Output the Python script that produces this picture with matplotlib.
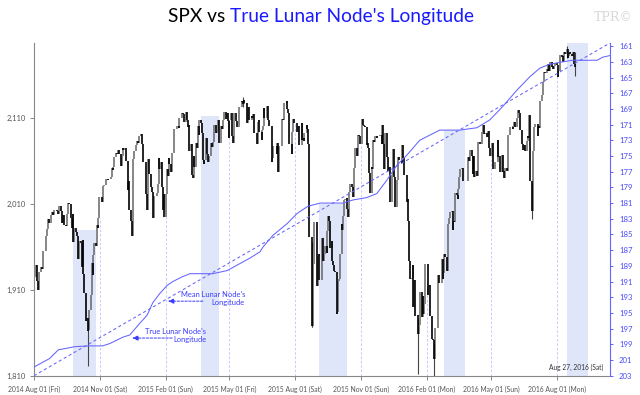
import numpy as np
import pandas as pd
import matplotlib
matplotlib.use("Agg")
import matplotlib.pyplot as plt
import matplotlib.dates as mdates
from matplotlib.ticker import FixedLocator, FuncFormatter

# ---------------- data ----------------
spx_closes = {
    "2014-08": [1925, 1939, 1920, 1920, 1910, 1931, 1937, 1934, 1946, 1955, 1955, 1972, 1981, 1986, 1992, 1988, 1997, 2000, 2000, 1997, 2003],
    "2014-09": [2002, 2000, 1998, 2007, 2001, 1988, 1996, 1997, 1985, 1984, 1998, 2001, 2011, 2010, 1994, 1982, 1998, 1965, 1982, 1977, 1972],
    "2014-10": [1946, 1946, 1967, 1964, 1936, 1968, 1928, 1906, 1874, 1877, 1862, 1863, 1886, 1904, 1941, 1927, 1950, 1964, 1961, 1985, 1982, 1994, 2018],
    "2014-11": [2018, 2012, 2023, 2031, 2032, 2039, 2039, 2038, 2039, 2039, 2041, 2052, 2049, 2053, 2064, 2069, 2068, 2072, 2068],
    "2014-12": [2054, 2066, 2075, 2072, 2075, 2060, 2060, 2026, 2036, 2003, 1990, 1973, 2013, 2062, 2071, 2078, 2083, 2081, 2089, 2091, 2080, 2059],
    "2015-01": [2058, 2021, 2003, 2026, 2062, 2045, 2029, 2024, 2012, 1993, 2019, 2023, 2033, 2063, 2051, 2058, 2030, 2003, 2021, 1995],
    "2015-02": [2021, 2050, 2042, 2063, 2056, 2047, 2069, 2069, 2089, 2097, 2101, 2100, 2098, 2110, 2110, 2116, 2114, 2110, 2105],
    "2015-03": [2117, 2108, 2099, 2102, 2071, 2079, 2044, 2040, 2066, 2053, 2081, 2075, 2100, 2090, 2108, 2104, 2092, 2061, 2056, 2061, 2086, 2068],
    "2015-04": [2059, 2066, 2081, 2076, 2082, 2092, 2102, 2092, 2095, 2107, 2105, 2081, 2101, 2097, 2107, 2112, 2117, 2109, 2115, 2106, 2086],
    "2015-05": [2108, 2115, 2089, 2081, 2088, 2116, 2106, 2099, 2099, 2121, 2123, 2129, 2128, 2126, 2131, 2127, 2104, 2123, 2121, 2107],
    "2015-06": [2112, 2110, 2114, 2096, 2092, 2079, 2080, 2105, 2108, 2094, 2084, 2096, 2100, 2121, 2110, 2122, 2124, 2108, 2102, 2101, 2058, 2063],
    "2015-07": [2077, 2077, 2068, 2081, 2047, 2052, 2077, 2100, 2109, 2107, 2124, 2127, 2129, 2120, 2115, 2102, 2080, 2068, 2093, 2109, 2109, 2104],
    "2015-08": [2098, 2094, 2100, 2084, 2078, 2104, 2084, 2086, 2083, 2092, 2102, 2097, 2079, 2036, 1971, 1893, 1868, 1940, 1988, 1989, 1972],
    "2015-09": [1914, 1949, 1951, 1921, 1970, 1943, 1952, 1961, 1953, 1978, 1996, 1990, 1958, 1967, 1943, 1939, 1932, 1931, 1882, 1884, 1920],
    "2015-10": [1923, 1952, 1987, 1980, 1996, 2014, 2015, 2017, 2004, 1995, 2024, 2033, 2033, 2030, 2018, 2052, 2075, 2072, 2066, 2090, 2089, 2079],
    "2015-11": [2104, 2109, 2102, 2100, 2099, 2078, 2081, 2075, 2046, 2023, 2053, 2051, 2084, 2082, 2089, 2087, 2089, 2089, 2090, 2080],
    "2015-12": [2102, 2080, 2050, 2092, 2077, 2064, 2048, 2053, 2012, 2022, 2043, 2074, 2041, 2006, 2022, 2038, 2064, 2061, 2057, 2078, 2063, 2044],
    "2016-01": [2012, 2016, 1990, 1943, 1922, 1924, 1939, 1890, 1921, 1880, 1881, 1859, 1869, 1907, 1878, 1903, 1882, 1893, 1940],
    "2016-02": [1940, 1904, 1913, 1915, 1880, 1853, 1852, 1852, 1829, 1865, 1896, 1927, 1918, 1918, 1946, 1922, 1930, 1952, 1948, 1932],
    "2016-03": [1978, 1986, 1994, 2000, 2002, 1980, 1990, 1989, 2022, 2020, 2016, 2027, 2041, 2050, 2052, 2049, 2036, 2036, 2037, 2056, 2064, 2060],
    "2016-04": [2073, 2066, 2045, 2066, 2041, 2048, 2042, 2062, 2082, 2082, 2080, 2094, 2100, 2102, 2091, 2092, 2088, 2091, 2095, 2075, 2065],
    "2016-05": [2081, 2063, 2051, 2051, 2058, 2059, 2084, 2064, 2065, 2047, 2067, 2047, 2048, 2040, 2052, 2048, 2076, 2090, 2090, 2099, 2097],
    "2016-06": [2100, 2105, 2099, 2110, 2112, 2119, 2116, 2096, 2079, 2075, 2072, 2078, 2071, 2083, 2089, 2086, 2113, 2037, 2001, 2037, 2071, 2099],
    "2016-07": [2103, 2089, 2100, 2098, 2129, 2137, 2152, 2152, 2163, 2162, 2167, 2164, 2173, 2165, 2175, 2169, 2170, 2167, 2170, 2174],
    "2016-08": [2171, 2157, 2164, 2165, 2183, 2181, 2182, 2175, 2186, 2184, 2190, 2179, 2182, 2187, 2184, 2182, 2186, 2175, 2173, 2169],
}
market_holidays = ["2014-09-01", "2014-11-27", "2014-12-25", "2015-01-01", "2015-01-19", "2015-02-16",
                   "2015-04-03", "2015-05-25", "2015-07-03", "2015-09-07", "2015-11-26", "2015-12-25",
                   "2016-01-01", "2016-01-18", "2016-02-15", "2016-03-25", "2016-05-30", "2016-07-04"]

# intraday extremes on notable days
extreme_dates = ["2014-10-15", "2015-05-20", "2015-08-24", "2015-08-25", "2016-01-20", "2016-02-11", "2016-06-27", "2016-08-15", "2016-08-26"]
extreme_lows = [1821, 2123, 1867, 1867, 1812, 1810, 1992, 2180, 2159]
extreme_highs = [1874, 2134, 1965, 1948, 1876, 1848, 2033, 2194, 2187]

true_node_dates = ["2014-08-01", "2014-08-23", "2014-09-04", "2014-09-16", "2014-09-27", "2014-10-18", "2014-11-05",
                   "2014-11-15", "2014-12-03", "2014-12-13", "2014-12-27", "2015-01-06", "2015-01-14", "2015-01-24",
                   "2015-02-03", "2015-02-11", "2015-02-24", "2015-03-07", "2015-03-21", "2015-04-08", "2015-04-28",
                   "2015-05-16", "2015-05-30", "2015-06-13", "2015-06-17", "2015-07-01", "2015-07-21", "2015-08-04",
                   "2015-08-19", "2015-09-05", "2015-10-07", "2015-10-21", "2015-11-09", "2015-11-23", "2015-12-07",
                   "2015-12-21", "2016-01-04", "2016-01-22", "2016-02-19", "2016-03-18", "2016-04-11", "2016-04-29",
                   "2016-05-17", "2016-06-06", "2016-06-24", "2016-07-08", "2016-07-22", "2016-08-09", "2016-08-23",
                   "2016-09-26", "2016-10-04", "2016-10-14"]
true_node_values = [201.9, 200.8, 199.7, 199.5, 199.3, 199.2, 199.2,
                    198.9, 198.1, 197.8, 196.3, 195.3, 193.7, 192.5,
                    191.5, 191.0, 190.4, 190.0, 190.0, 190.0, 189.6,
                    188.7, 188.0, 187.2, 186.6, 185.1, 183.6, 182.3,
                    181.4, 181.0, 181.0, 180.6, 180.3, 179.8, 178.1,
                    176.2, 174.9, 173.0, 171.7, 171.7, 171.4, 170.4,
                    168.7, 166.6, 164.9, 163.8, 163.3, 163.0, 162.8,
                    162.8, 162.4, 162.2]

mean_node_dates = ["2014-08-01", "2016-10-14"]
mean_node_values = [203.0, 160.6]

shade_starts = ["2014-09-25", "2015-03-22", "2015-09-04", "2016-02-25", "2016-08-15"]
shade_ends = ["2014-10-27", "2015-04-16", "2015-10-12", "2016-03-25", "2016-09-13"]
shade_tops = [1979, 2112, 2010, 2096, 2197]

x_tick_dates = ["2014-08-01", "2014-11-01", "2015-02-01", "2015-05-01", "2015-08-01",
                "2015-11-01", "2016-02-01", "2016-05-01", "2016-08-01"]
left_ticks = [1810, 1910, 2010, 2110]
right_ticks = list(range(161, 204, 2))

x_start, x_end = "2014-08-01", "2016-10-14"
left_lim = (1810, 2197)
right_lim = (203, 160.6)

# ---------------- build price series ----------------
hol = pd.to_datetime(market_holidays)
dates, closes = [], []
for month, vals in spx_closes.items():
    start = pd.Timestamp(month + "-01")
    days = pd.bdate_range(start, start + pd.offsets.MonthEnd(0))
    days = days[~days.isin(hol)]
    dates.extend(days[:len(vals)])
    closes.extend(vals)
dates = pd.DatetimeIndex(dates)
closes = np.array(closes, dtype=float)
prev = np.concatenate([[closes[0]], closes[:-1]])

# ---------------- figure ----------------
plt.rcParams["font.family"] = ["Lato", "DejaVu Sans"]
fig = plt.figure(figsize=(6.4, 3.95), dpi=100)
ax = fig.add_axes([34 / 640, 19.3 / 395, 576 / 640, 332.7 / 395])
ax2 = ax.twinx()

blue = "#6464ff"
label_blue = "#4a4aff"

# shaded windows
for s, e, t in zip(shade_starts, shade_ends, shade_tops):
    ax.fill_between([pd.Timestamp(s), pd.Timestamp(e)], left_lim[0], t,
                    color="#dfe6fa", lw=0, zorder=0)

# dashed month lines up to the price
for d in x_tick_dates[1:]:
    dt = pd.Timestamp(d)
    i = np.argmin(np.abs((dates - dt).days))
    top = min(prev[i], closes[i])
    ax.plot([dt, dt], [left_lim[0], top], color="#c8c8ff", lw=0.7,
            dashes=(2.5, 2), zorder=1)

# price bars
up = closes >= prev
ax.vlines(dates[up], prev[up], closes[up], color="#666666", lw=1.1, zorder=2)
ax.vlines(dates[~up], prev[~up], closes[~up], color="black", lw=1.2, zorder=3)
ax.vlines(pd.to_datetime(extreme_dates), extreme_lows, extreme_highs, color="#444444", lw=0.8, zorder=2)

# lunar node lines
ax2.plot(pd.to_datetime(true_node_dates), true_node_values, color=blue, lw=0.75, zorder=4)
ax2.plot(pd.to_datetime(mean_node_dates), mean_node_values, color=blue, lw=0.75,
         dashes=(3, 2.5), zorder=4)

# limits
ax.set_xlim(pd.Timestamp(x_start), pd.Timestamp(x_end))
ax.set_ylim(*left_lim)
ax2.set_ylim(*right_lim)

# x ticks
ax.xaxis.set_major_locator(FixedLocator(mdates.date2num(pd.to_datetime(x_tick_dates))))
ax.xaxis.set_major_formatter(FuncFormatter(
    lambda v, p: mdates.num2date(v).strftime("%Y %b %d (%a)")))
ax.tick_params(axis="x", labelsize=4.9, colors="#888888", labelcolor="#555555",
               length=3, width=0.7, pad=4)

# left ticks
ax.set_yticks(left_ticks)
ax.set_yticklabels([f"{v:,}" for v in left_ticks])
ax.tick_params(axis="y", labelsize=5.4, colors="#888888", labelcolor="#555555",
               length=3, width=0.7, pad=3)

# right ticks
ax2.set_yticks(right_ticks)
ax2.tick_params(axis="y", labelsize=5.6, colors=blue, labelcolor=label_blue,
                length=2.5, width=0.7, pad=4)

for a in (ax, ax2):
    a.spines["top"].set_visible(False)
ax.spines["right"].set_visible(False)
ax2.spines["left"].set_visible(False)
ax2.spines["bottom"].set_visible(False)
ax.spines["left"].set_color("#888888")
ax.spines["bottom"].set_color("#888888")
ax.spines["left"].set_linewidth(0.8)
ax.spines["bottom"].set_linewidth(0.8)
ax2.spines["right"].set_color(blue)
ax2.spines["right"].set_linewidth(0.8)

# annotations
ann_color = "#3a3aff"
ax2.annotate("", xy=(pd.Timestamp("2015-02-04"), 193.5), xytext=(pd.Timestamp("2015-03-25"), 193.5),
             arrowprops=dict(arrowstyle="-|>,head_length=0.35,head_width=0.15", color=ann_color,
                             lw=0.7, linestyle=(0, (2.5, 1.5)), shrinkA=0, shrinkB=0))
ax2.text(pd.Timestamp("2015-05-23"), 193.2, "Mean Lunar Node's\nLongitude", ha="right", va="center",
         fontsize=5.4, color=ann_color, linespacing=1.15)
ax2.annotate("", xy=(pd.Timestamp("2014-12-16"), 198.2), xytext=(pd.Timestamp("2015-02-10"), 198.2),
             arrowprops=dict(arrowstyle="-|>,head_length=0.35,head_width=0.15", color=ann_color,
                             lw=0.7, linestyle=(0, (2.5, 1.5)), shrinkA=0, shrinkB=0))
ax2.text(pd.Timestamp("2015-03-30"), 197.9, "True Lunar Node's\nLongitude", ha="right", va="center",
         fontsize=5.4, color=ann_color, linespacing=1.15)

ax.text(pd.Timestamp("2016-10-04"), 1820, "Aug 27, 2016 (Sat)", ha="right", va="center",
        fontsize=4.8, color="#333333")

# title
fig.text(230 / 640, 0.958, "SPX vs ", ha="right", va="center", fontsize=13.8, color="black")
fig.text(230 / 640, 0.958, "True Lunar Node's Longitude", ha="left", va="center", fontsize=13.8, color="#1a1aff")
fig.text(0.988, 0.955, "TPR\u00a9", ha="right", va="center", fontsize=9, color="#d8d8d8",
         family=["DejaVu Serif"])

fig.savefig("out.png", dpi=100)
